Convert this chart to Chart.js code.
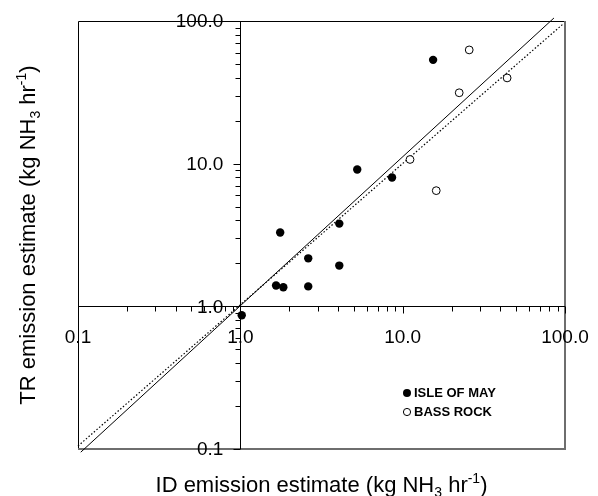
<!DOCTYPE html>
<html>
<head>
<meta charset="utf-8">
<script src="https://cdn.jsdelivr.net/npm/chart.js@4.4.0/dist/chart.umd.min.js"></script>
<style>
  html, body { margin: 0; padding: 0; background: #fff; }
  #wrap { width: 598px; height: 496px; }
</style>
</head>
<body>
<div id="wrap"><canvas id="chart" width="598" height="496"></canvas></div>
<script>
// Isle of May (filled) and Bass Rock (open), kg NH3 per hour
const mayId = [1.02, 1.66, 1.84, 1.76, 2.62, 2.62, 4.07, 4.07, 5.25, 8.6, 15.4];
const mayTr = [0.865, 1.40, 1.36, 3.29, 2.17, 1.38, 1.93, 3.80, 9.1, 8.0, 53.4];
const bassId = [11.1, 16.1, 22.3, 25.7, 44.0];
const bassTr = [10.7, 6.47, 31.4, 62.7, 39.9];

// solid fitted line and dotted 1:1 line, end points only
const fitId = [0.104, 85.5];
const fitTr = [0.095, 105];
const oneId = [0.1, 97];
const oneTr = [0.105, 95];

const tickValues = [0.1, 1, 10, 100];
const tickLabels = ['0.1', '1.0', '10.0', '100.0'];
const minorTicks = [0.2, 0.3, 0.4, 0.5, 0.6, 0.7, 0.8, 0.9,
                    2, 3, 4, 5, 6, 7, 8, 9,
                    20, 30, 40, 50, 60, 70, 80, 90];
const legendLabels = ['ISLE OF MAY', 'BASS ROCK'];

// [text, 0 = normal, -1 = subscript, 1 = superscript]
const xTitle = [['ID emission estimate (kg NH', 0], ['3', -1], [' hr', 0], ['-1', 1], [')', 0]];
const yTitle = [['TR emission estimate (kg NH', 0], ['3', -1], [' hr', 0], ['-1', 1], [')', 0]];

const FONT = 'Arial, "Liberation Sans", sans-serif';

function toPoints(xs, ys) {
  return xs.map((x, i) => ({ x: x, y: ys[i] }));
}

function partFont(p) {
  return (p[1] ? 14 : 22) + 'px ' + FONT;
}

// draw title with sub/superscripts, centred on cx, baseline at by
function drawRich(ctx, parts, cx, by) {
  let w = 0;
  parts.forEach(p => {
    ctx.font = partFont(p);
    w += ctx.measureText(p[0]).width;
  });
  let x = cx - w / 2;
  ctx.textAlign = 'left';
  ctx.textBaseline = 'alphabetic';
  parts.forEach(p => {
    ctx.font = partFont(p);
    const dy = p[1] === -1 ? 5 : (p[1] === 1 ? -9 : 0);
    ctx.fillText(p[0], x, by + dy);
    x += ctx.measureText(p[0]).width;
  });
}

const frame = {
  id: 'frame',
  beforeDatasetsDraw(chart) {
    const { ctx, chartArea: a, scales: { x, y } } = chart;
    const x0 = Math.round(x.getPixelForValue(1)) + 0.5;
    const y0 = Math.round(y.getPixelForValue(1)) + 0.5;
    ctx.save();
    ctx.lineWidth = 1;
    ctx.strokeStyle = '#000';
    ctx.beginPath();
    ctx.moveTo(a.left + 0.5, a.bottom);
    ctx.lineTo(a.left + 0.5, a.top + 0.5);
    ctx.lineTo(a.right, a.top + 0.5);
    ctx.stroke();

    ctx.strokeStyle = '#6e6e6e';
    ctx.lineWidth = 2;
    ctx.beginPath();
    ctx.moveTo(a.right, a.top);
    ctx.lineTo(a.right, a.bottom);
    ctx.lineTo(a.left, a.bottom);
    ctx.stroke();

    // axes crossing at (1, 1), ticks: x downward, y leftward
    ctx.strokeStyle = '#000';
    ctx.lineWidth = 1;
    ctx.beginPath();
    ctx.moveTo(a.left, y0);
    ctx.lineTo(a.right, y0);
    ctx.moveTo(x0, a.top);
    ctx.lineTo(x0, a.bottom);
    const marks = tickValues.map(v => [v, 7]).concat(minorTicks.map(v => [v, 5]));
    marks.forEach(([v, len]) => {
      const px = Math.round(x.getPixelForValue(v)) + 0.5;
      ctx.moveTo(px, y0);
      ctx.lineTo(px, y0 + len);
      const py = Math.round(y.getPixelForValue(v)) + 0.5;
      ctx.moveTo(x0, py);
      ctx.lineTo(x0 - len, py);
    });
    ctx.stroke();
    ctx.restore();
  },
  afterDraw(chart) {
    const { ctx, chartArea: a, scales: { x, y } } = chart;
    const x0 = x.getPixelForValue(1);
    const y0 = y.getPixelForValue(1);
    ctx.save();
    ctx.fillStyle = '#000';
    ctx.font = '19px ' + FONT;

    // tick labels
    ctx.textAlign = 'center';
    ctx.textBaseline = 'middle';
    tickValues.forEach((v, i) => {
      ctx.fillText(tickLabels[i], x.getPixelForValue(v), y0 + 31);
    });
    ctx.textAlign = 'right';
    tickValues.forEach((v, i) => {
      ctx.fillText(tickLabels[i], x0 - 17, y.getPixelForValue(v) + 1);
    });

    // axis titles
    drawRich(ctx, xTitle, (a.left + a.right) / 2, 492);
    ctx.save();
    ctx.translate(35, (a.top + a.bottom) / 2);
    ctx.rotate(-Math.PI / 2);
    drawRich(ctx, yTitle, 0, 0);
    ctx.restore();

    // legend
    ctx.font = 'bold 13px ' + FONT;
    ctx.textAlign = 'left';
    ctx.textBaseline = 'middle';
    ctx.beginPath();
    ctx.arc(407, 393, 4, 0, Math.PI * 2);
    ctx.fill();
    ctx.fillText(legendLabels[0], 414, 393);
    ctx.beginPath();
    ctx.arc(407, 412, 3.6, 0, Math.PI * 2);
    ctx.lineWidth = 1;
    ctx.strokeStyle = '#000';
    ctx.stroke();
    ctx.fillText(legendLabels[1], 414, 412);
    ctx.restore();
  }
};

new Chart(document.getElementById('chart'), {
  type: 'scatter',
  data: {
    datasets: [
      {
        label: legendLabels[0],
        data: toPoints(mayId, mayTr),
        backgroundColor: '#000',
        borderColor: '#000',
        pointRadius: 4.2,
        pointBorderWidth: 0,
        order: 1,
      },
      {
        label: legendLabels[1],
        data: toPoints(bassId, bassTr),
        backgroundColor: '#fff',
        borderColor: '#000',
        pointRadius: 3.9,
        pointBorderWidth: 1,
        order: 1,
      },
      {
        label: 'fit',
        data: toPoints(fitId, fitTr),
        showLine: true,
        borderColor: '#000',
        borderWidth: 1,
        pointRadius: 0,
        clip: false,
        order: 2,
      },
      {
        label: '1:1',
        data: toPoints(oneId, oneTr),
        showLine: true,
        borderColor: '#000',
        borderWidth: 1.2,
        borderDash: [1.5, 2],
        pointRadius: 0,
        clip: false,
        order: 2,
      },
    ],
  },
  options: {
    responsive: false,
    animation: false,
    layout: { padding: { left: 78, top: 21, right: 33, bottom: 47 } },
    plugins: {
      legend: { display: false },
      tooltip: { enabled: false },
    },
    scales: {
      x: { type: 'logarithmic', min: 0.1, max: 100, display: false },
      y: { type: 'logarithmic', min: 0.1, max: 100, display: false },
    },
  },
  plugins: [frame],
});
</script>
</body>
</html>
